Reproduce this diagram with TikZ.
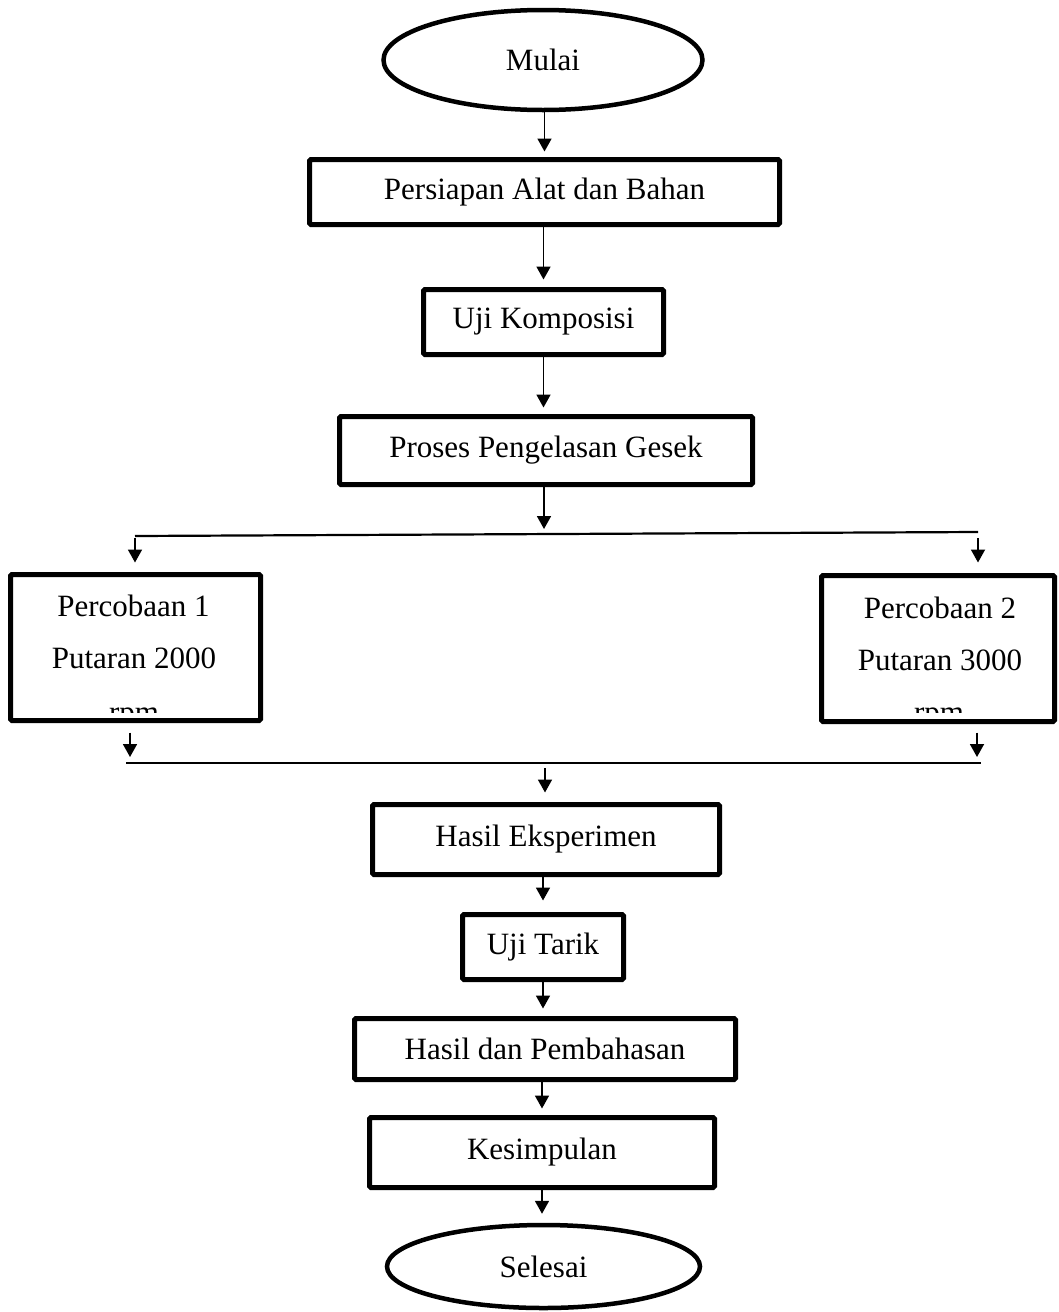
\documentclass[tikz,border=0pt]{standalone}
\usepackage{fontspec}
\setmainfont{Liberation Serif}
\usetikzlibrary{arrows.meta,shapes.geometric}
\begin{document}
\begin{tikzpicture}[x=1pt,y=-1pt,
  box/.style={draw, line width=5pt, rounded corners=1.5pt, inner sep=0pt, font=\fontsize{31}{37}\selectfont},
  term/.style={draw, ellipse, line width=4.5pt, inner sep=0pt, font=\fontsize{31}{37}\selectfont},
  txt/.style={inner sep=0pt, font=\fontsize{31}{37}\selectfont},
  arr/.style={line width=1.8pt, -{Triangle[width=14pt,length=13pt]}},
  bar/.style={line width=2.2pt}]
\fill[white] (0,0) rectangle (1059,1312);
\useasboundingbox (0,0) rectangle (1059,1312);

% main chain
\node[term, minimum width=319pt, minimum height=100pt] (start) at (543,60) {Mulai};
\node[box, minimum width=470pt, minimum height=65pt] (prep) at (544.5,192) {Persiapan Alat dan Bahan};
\node[box, minimum width=240pt, minimum height=65pt] (komp) at (543.5,322) {Uji Komposisi};
\node[box, minimum width=413pt, minimum height=68pt] (las) at (546,450.5) {Proses Pengelasan Gesek};
\node[box, minimum width=250pt, minimum height=146pt] (p1) at (135.5,647.5) {};
\node[box, minimum width=233pt, minimum height=146pt] (p2) at (938,648.5) {};
\node[box, minimum width=347pt, minimum height=70pt] (hasil) at (546,839.5) {Hasil Eksperimen};
\node[box, minimum width=161pt, minimum height=65pt] (tarik) at (543,947) {Uji Tarik};
\node[box, minimum width=381pt, minimum height=61pt] (bahas) at (545,1049) {Hasil dan Pembahasan};
\node[box, minimum width=345pt, minimum height=70pt] (simpul) at (542,1152.5) {Kesimpulan};
\node[term, minimum width=313pt, minimum height=83pt] (end) at (543.5,1266.5) {Selesai};

% texts of the two trial boxes
\node[txt, anchor=base] (p1a) at (133.5,616) {Percobaan 1};
\node[txt, anchor=base] (p1b) at (134,668) {Putaran 2000};
\begin{scope}
  \clip (100,707) rectangle (170,712);
  \node[txt, anchor=base] (p1c) at (134,722) {rpm};
\end{scope}
\node[txt, anchor=base] (p2a) at (940,618) {Percobaan 2};
\node[txt, anchor=base] (p2b) at (940,670) {Putaran 3000};
\begin{scope}
  \clip (905,707) rectangle (975,712);
  \node[txt, anchor=base] (p2c) at (939,722) {rpm};
\end{scope}

% split and join lines
\coordinate (sL) at (135,536);
\coordinate (sR) at (978,532);
\coordinate (sM) at (544,534);
\coordinate (jL) at (126,763);
\coordinate (jR) at (981,763);
\coordinate (jM) at (545,763);
\coordinate (j1) at (130,763);
\coordinate (j2) at (977,763);
\draw[bar] (sL) -- (sR);
\draw[bar] (jL) -- (jR);

% arrows
\draw[arr, shorten >=5.5pt] (start.south -| prep) -- (prep.north);
\draw[arr, shorten >=7.5pt] (prep.south -| komp) -- (komp.north);
\draw[arr, shorten >=6.5pt] (komp.south) -- (komp.south |- las.north);
\draw[arr, shorten >=5pt] (las.south -| sM) -- (sM);
\draw[arr, shorten <=2pt, shorten >=9.5pt] (sL) -- (sL |- p1.north);
\draw[arr, shorten <=6pt, shorten >=10.5pt] (sR) -- (sR |- p2.north);
\draw[arr, shorten <=9.5pt, shorten >=6pt] (p1.south -| j1) -- (j1);
\draw[arr, shorten <=8.5pt, shorten >=6pt] (p2.south -| j2) -- (j2);
\draw[arr, shorten <=5pt, shorten >=9.5pt] (jM) -- (jM |- hasil.north);
\draw[arr, shorten >=11.5pt] (hasil.south -| tarik) -- (tarik.north);
\draw[arr, shorten >=7.5pt] (tarik.south) -- (tarik.south |- bahas.north);
\draw[arr, shorten >=6.5pt] (bahas.south -| simpul) -- (simpul.north);
\draw[arr, shorten >=9pt] (simpul.south) -- (simpul.south |- end.north);
\end{tikzpicture}
\end{document}
